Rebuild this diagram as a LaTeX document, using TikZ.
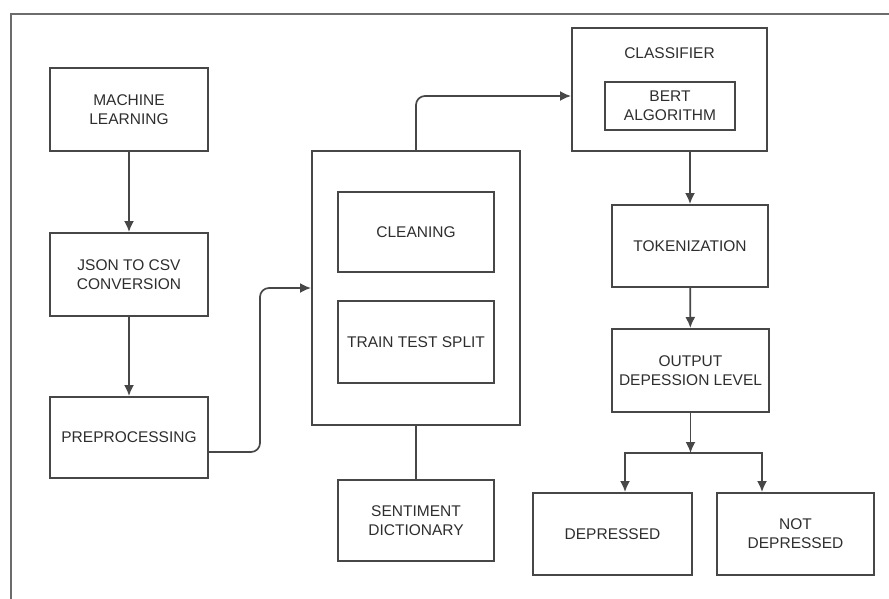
\documentclass[tikz,border=0pt]{standalone}
\usepackage{fontspec}
\setmainfont{Liberation Sans}
\usetikzlibrary{arrows.meta,calc}
\definecolor{linec}{HTML}{474747}
\definecolor{textc}{HTML}{2E2E2E}
\begin{document}
\begin{tikzpicture}[x=1pt,y=-1pt,
  box/.style={draw=linec,line width=2pt,rectangle,inner sep=0pt,
    text=textc,align=center,font=\fontsize{15.5}{19}\selectfont},
  lbl/.style={text=textc,inner sep=0pt,font=\fontsize{15.5}{19}\selectfont},
  arr/.style={draw=linec,line width=1.7pt,-{Latex[length=11pt,width=10pt]}},
  ln/.style={draw=linec,line width=1.7pt}]
\useasboundingbox (0,0) rectangle (889,599);
\fill[white] (0,0) rectangle (889,599);
% outer frame
\coordinate (fbl) at (11,599);
\coordinate (ftl) at (11,14);
\coordinate (ftr) at (889,14);
\draw[draw=linec!80,line width=2pt] (fbl) -- (ftl) -- (ftr);
% left column
\node[box,minimum width=158pt,minimum height=83pt] (ml) at (129,109.5) {MACHINE\\LEARNING};
\node[box,minimum width=158pt,minimum height=83pt] (json) at (129,274.5) {JSON TO CSV\\CONVERSION};
\node[box,minimum width=158pt,minimum height=81pt] (pre) at (129,437.5) {PREPROCESSING};
% middle column
\node[box,minimum width=208pt,minimum height=274pt] (big) at (416,288) {};
\node[box,minimum width=156pt,minimum height=80pt] (clean) at (416,232) {CLEANING};
\node[box,minimum width=156pt,minimum height=82pt] (split) at (416,342) {TRAIN TEST SPLIT};
\node[box,minimum width=156pt,minimum height=81pt] (sent) at (416,520.5) {SENTIMENT\\DICTIONARY};
% right column
\node[box,minimum width=195pt,minimum height=123pt] (cls) at (669.5,89.5) {};
\node[lbl] (clst) at (669.5,53) {CLASSIFIER};
\node[box,minimum width=130pt,minimum height=48pt] (bert) at (670,106) {BERT\\ALGORITHM};
\node[box,minimum width=156pt,minimum height=82pt] (tok) at (690,246) {TOKENIZATION};
\node[box,minimum width=157pt,minimum height=83pt] (out) at (690.5,370.5) {OUTPUT\\DEPESSION LEVEL};
\node[box,minimum width=159pt,minimum height=82pt] (dep) at (612.5,534) {DEPRESSED};
\node[box,minimum width=157pt,minimum height=82pt] (ndep) at (795.5,534) {NOT\\DEPRESSED};
% connectors
\draw[arr] (ml) -- (json);
\draw[arr] (json) -- (pre);
\coordinate (m1) at ($(pre.east)!0.5!(big.west)$);
\draw[arr,rounded corners=9pt] ([yshift=-14.5pt]pre.east) -| (m1 |- big.west) -- (big.west);
\draw[arr,rounded corners=9pt] (big.north) |- ([yshift=-6.5pt]cls.west);
\draw[ln] (big.south) -- (sent.north);
\draw[arr] (tok.north |- cls.south) -- (tok.north);
\draw[arr] (tok) -- (out);
\coordinate (j) at ([yshift=-40pt]out.south);
\draw[arr] (out.south) -- (j);
\draw[arr] (j) -| ([xshift=12.5pt]dep.north);
\draw[arr] (j) -| ([xshift=-33.5pt]ndep.north);
\end{tikzpicture}
\end{document}
